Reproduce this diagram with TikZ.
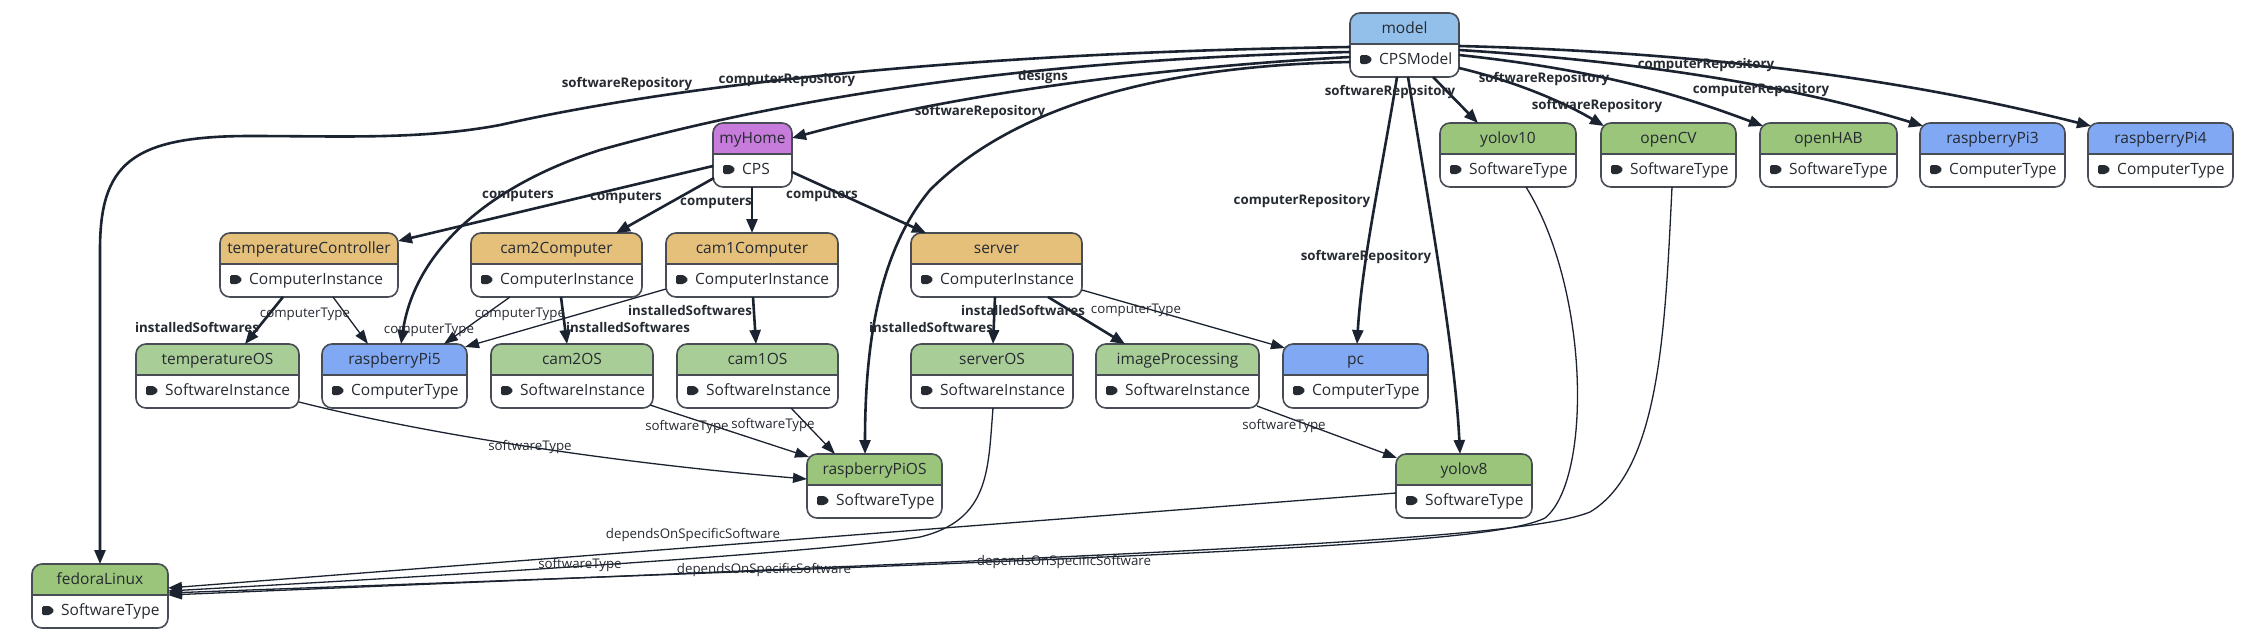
\documentclass[tikz,border=0pt]{standalone}
\usepackage{fontspec}
\setmainfont{Open Sans}
\usetikzlibrary{arrows.meta,calc}
\definecolor{edgec}{HTML}{1B2230}
\definecolor{bordc}{HTML}{474C55}
\definecolor{txtc}{HTML}{262A31}
\definecolor{modelc}{HTML}{93C0EA}
\definecolor{cpsc}{HTML}{C77BDB}
\definecolor{cic}{HTML}{E5C07B}
\definecolor{sic}{HTML}{A9CD96}
\definecolor{stc}{HTML}{9AC57B}
\definecolor{ctc}{HTML}{80A8F3}
\tikzset{
 nodeshape/.style={rectangle, fill=white, draw=none, minimum height=64pt, inner sep=0pt, outer sep=0pt},
 titletext/.style={anchor=base, inner sep=0pt, text=txtc, font=\fontsize{15.5pt}{18pt}\selectfont},
 typetext/.style={anchor=base west, inner sep=0pt, text=txtc, font=\fontsize{15.5pt}{18pt}\selectfont},
 thk/.style={draw=edgec, line width=2.6pt, -{Triangle[length=14pt,width=11pt]}},
 thn/.style={draw=edgec, line width=1.3pt, -{Triangle[length=14pt,width=10pt]}},
 blab/.style={anchor=base, inner sep=0pt, text=txtc, font=\fontsize{13.3pt}{16pt}\selectfont\bfseries},
 rlab/.style={anchor=base, inner sep=0pt, text=txtc, font=\fontsize{13.3pt}{16pt}\selectfont},
}
\newcommand{\mnode}[7]{%
 \pgfmathsetmacro{\mnw}{#3-#2}%
 \node[nodeshape, minimum width=\mnw pt] (#1) at ({(#2+#3)/2},{#4+32}) {};
 \begin{scope}
 \clip[rounded corners=10pt] (#2,#4) rectangle (#3,#4+64);
 \fill[#5] (#2,#4) rectangle (#3,#4+31);
 \end{scope}
 \draw[bordc, line width=1.3pt] (#2,#4+31) -- (#3,#4+31);
 \draw[bordc, line width=1.6pt, rounded corners=10pt] (#2,#4) rectangle (#3,#4+64);
 \node[titletext] at ({(#2+#3)/2},#4+20.5) {#6};
 \fill[txtc, rounded corners=1.5pt] (#2+10,#4+42) -- (#2+18,#4+42) -- (#2+22.5,#4+46.5) -- (#2+18,#4+51) -- (#2+10,#4+51) -- cycle;
 \node[typetext] at (#2+29,#4+51.5) {#7};
}
\begin{document}
\begin{tikzpicture}[x=1pt,y=-1pt]
\useasboundingbox[fill=white] (0,0) rectangle (2265,641);

\mnode{model}{1350}{1459}{13}{modelc}{model}{CPSModel}
\mnode{myHome}{713}{792}{123}{cpsc}{myHome}{CPS}
\mnode{yolov10}{1440}{1576}{123}{stc}{yolov10}{SoftwareType}
\mnode{openCV}{1601}{1736}{123}{stc}{openCV}{SoftwareType}
\mnode{openHAB}{1760}{1897}{123}{stc}{openHAB}{SoftwareType}
\mnode{raspberryPi3}{1920}{2065}{123}{ctc}{raspberryPi3}{ComputerType}
\mnode{raspberryPi4}{2088}{2233}{123}{ctc}{raspberryPi4}{ComputerType}
\mnode{temperatureController}{220}{398}{233}{cic}{temperatureController}{ComputerInstance}
\mnode{cam2Computer}{471}{642}{233}{cic}{cam2Computer}{ComputerInstance}
\mnode{cam1Computer}{666}{838}{233}{cic}{cam1Computer}{ComputerInstance}
\mnode{server}{911}{1082}{233}{cic}{server}{ComputerInstance}
\mnode{temperatureOS}{136}{299}{344}{sic}{temperatureOS}{SoftwareInstance}
\mnode{raspberryPi5}{322}{467}{344}{ctc}{raspberryPi5}{ComputerType}
\mnode{cam2OS}{491}{653}{344}{sic}{cam2OS}{SoftwareInstance}
\mnode{cam1OS}{677}{838}{344}{sic}{cam1OS}{SoftwareInstance}
\mnode{serverOS}{911}{1073}{344}{sic}{serverOS}{SoftwareInstance}
\mnode{imageProcessing}{1096}{1259}{344}{sic}{imageProcessing}{SoftwareInstance}
\mnode{pc}{1283}{1428}{344}{ctc}{pc}{ComputerType}
\mnode{raspberryPiOS}{807}{942}{454}{stc}{raspberryPiOS}{SoftwareType}
\mnode{yolov8}{1396}{1532}{454}{stc}{yolov8}{SoftwareType}
\mnode{fedoraLinux}{32}{168}{564}{stc}{fedoraLinux}{SoftwareType}

% model containment
\draw[thk] ($(model.north west)+(0,34)$) .. controls (1000,52) and (700,80) .. (500,125) .. controls (420,140) and (340,136) .. (250,136) .. controls (130,136) and (100,165) .. (100,250) -- (fedoraLinux.north) node[blab, at={(627,87)}] {softwareRepository};
\draw[thk] ($(model.north west)+(0,39)$) .. controls (1000,60) and (760,105) .. (600,150) .. controls (490,185) and (415,250) .. ($(raspberryPi5.north west)+(79,0)$) node[blab, at={(787,83)}] {computerRepository};
\draw[thk] ($(model.north west)+(0,44)$) .. controls (1150,68) and (950,95) .. ($(myHome.north east)+(0,15)$) node[blab, at={(1043,80)}] {designs};
\draw[thk] ($(model.north west)+(0,49)$) .. controls (1150,66) and (1010,110) .. (930,190) .. controls (880,250) and (865,340) .. ($(raspberryPiOS.north west)+(58,0)$) node[blab, at={(980,115)}] {softwareRepository};
\draw[thk] ($(model.south west)+(47,0)$) .. controls (1382,170) and (1362,260) .. ($(pc.north west)+(74,0)$) node[blab, at={(1302,204)}] {computerRepository};
\draw[thk] ($(model.south west)+(58,0)$) .. controls (1428,200) and (1455,350) .. ($(yolov8.north west)+(64,0)$) node[blab, at={(1366,260)}] {softwareRepository};
\draw[thk] ($(model.south west)+(83,0)$) -- ($(yolov10.north west)+(38,0)$) node[blab, at={(1390,95)}] {softwareRepository};
\draw[thk] ($(model.north east)+(0,55)$) .. controls (1510,80) and (1560,100) .. ($(openCV.north west)+(3,3)$) node[blab, at={(1544,82)}] {softwareRepository};
\draw[thk] ($(model.north east)+(0,42)$) .. controls (1600,70) and (1680,95) .. ($(openHAB.north west)+(3,3)$) node[blab, at={(1597,109)}] {softwareRepository};
\draw[thk] ($(model.north east)+(0,37)$) .. controls (1650,62) and (1800,88) .. ($(raspberryPi3.north west)+(3,3)$) node[blab, at={(1761,93)}] {computerRepository};
\draw[thk] ($(model.north east)+(0,33)$) .. controls (1700,52) and (1900,78) .. ($(raspberryPi4.north west)+(3,3)$) node[blab, at={(1706,68)}] {computerRepository};

% computers
\draw[thk] ($(myHome.north west)+(0,43)$) -- ($(temperatureController.north east)+(0,8)$) node[blab, at={(518,198)}] {computers};
\draw[thk] ($(myHome.north west)+(1,55)$) -- ($(cam2Computer.north west)+(145,0)$) node[blab, at={(626,200)}] {computers};
\draw[thk] ($(myHome.south west)+(39,0)$) -- ($(cam1Computer.north west)+(86,0)$) node[blab, at={(716,205)}] {computers};
\draw[thk] ($(myHome.north east)+(0,49)$) -- ($(server.north west)+(15,0)$) node[blab, at={(822,198)}] {computers};

% installedSoftwares
\draw[thk] ($(temperatureController.south west)+(63,0)$) -- ($(temperatureOS.north west)+(109,0)$) node[blab, at={(197,332)}] {installedSoftwares};
\draw[thk] ($(cam2Computer.south west)+(90,0)$) -- ($(cam2OS.north west)+(76,0)$) node[blab, at={(628,332)}] {installedSoftwares};
\draw[thk] ($(cam1Computer.south west)+(87,0)$) -- ($(cam1OS.north west)+(79,0)$) node[blab, at={(690,315)}] {installedSoftwares};
\draw[thk] ($(server.south west)+(84,0)$) -- ($(serverOS.north west)+(82,0)$) node[blab, at={(931,332)}] {installedSoftwares};
\draw[thk] ($(server.south west)+(137,0)$) -- ($(imageProcessing.north west)+(29,0)$) node[blab, at={(1023,315)}] {installedSoftwares};

% computerType
\draw[thn] ($(temperatureController.south west)+(113,0)$) -- ($(raspberryPi5.north west)+(46,0)$) node[rlab, at={(305,317)}] {computerType};
\draw[thn] ($(cam2Computer.south west)+(39,0)$) -- ($(raspberryPi5.north west)+(122,0)$) node[rlab, at={(429,333)}] {computerType};
\draw[thn] ($(cam1Computer.north west)+(0,56)$) -- ($(raspberryPi5.north east)+(-2,3)$) node[rlab, at={(520,317)}] {computerType};
\draw[thn] ($(server.north east)+(0,57)$) -- ($(pc.north west)+(2,4)$) node[rlab, at={(1136,313)}] {computerType};

% softwareType
\draw[thn] ($(temperatureOS.north east)+(0,58)$) .. controls (450,440) and (650,466) .. ($(raspberryPiOS.north west)+(0,25)$) node[rlab, at={(530,450)}] {softwareType};
\draw[thn] ($(cam2OS.south east)+(-3,-3)$) -- ($(raspberryPiOS.north west)+(2,3)$) node[rlab, at={(687,430)}] {softwareType};
\draw[thn] ($(cam1OS.south west)+(114,0)$) -- ($(raspberryPiOS.north west)+(28,0)$) node[rlab, at={(773,428)}] {softwareType};
\draw[thn] ($(serverOS.south west)+(82,0)$) .. controls (988,470) and (990,520) .. (920,537) .. controls (800,555) and (400,578) .. ($(fedoraLinux.north east)+(0,27)$) node[rlab, at={(580,568)}] {softwareType};
\draw[thn] ($(imageProcessing.south east)+(-2,-2)$) -- ($(yolov8.north west)+(1,4)$) node[rlab, at={(1284,429)}] {softwareType};

% dependsOnSpecificSoftware
\draw[thn] ($(yolov8.north west)+(0,39)$) -- ($(fedoraLinux.north east)+(0,24)$) node[rlab, at={(693,538)}] {dependsOnSpecificSoftware};
\draw[thn] ($(yolov10.south west)+(86,0)$) .. controls (1590,290) and (1592,480) .. (1545,518) .. controls (1490,545) and (1200,555) .. ($(fedoraLinux.north east)+(0,29)$) node[rlab, at={(764,573)}] {dependsOnSpecificSoftware};
\draw[thn] ($(openCV.south west)+(71,0)$) .. controls (1665,330) and (1660,470) .. (1590,512) .. controls (1520,540) and (1200,552) .. ($(fedoraLinux.north east)+(0,31)$) node[rlab, at={(1064,565)}] {dependsOnSpecificSoftware};
\end{tikzpicture}
\end{document}
